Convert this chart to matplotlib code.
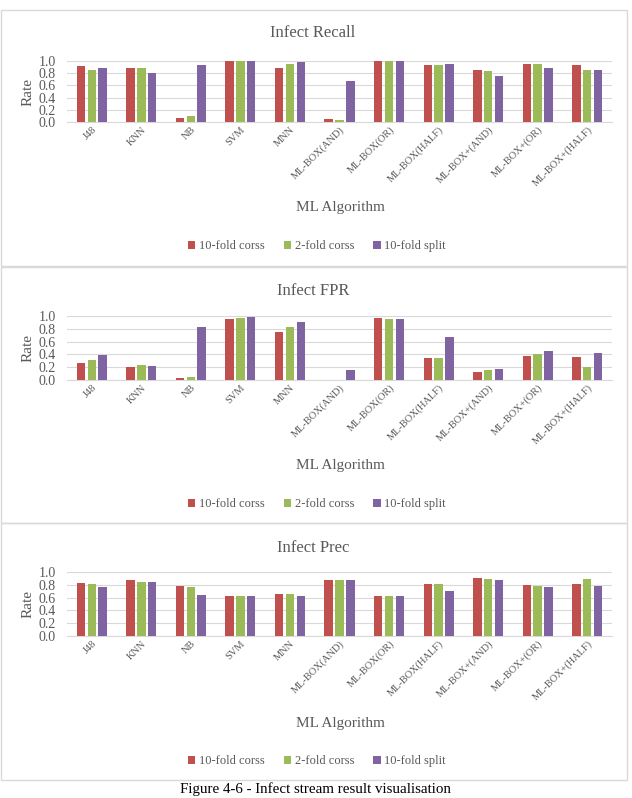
import matplotlib
matplotlib.use("Agg")
import matplotlib.pyplot as plt
import numpy as np
from matplotlib.patches import Rectangle

plt.rcParams['font.family'] = ['Liberation Serif', 'DejaVu Serif']

algorithms = ["J48", "KNN", "NB", "SVM", "MNN", "ML-BOX(AND)", "ML-BOX(OR)",
              "ML-BOX(HALF)", "ML-BOX+(AND)", "ML-BOX+(OR)", "ML-BOX+(HALF)"]
series_names = ["10-fold corss", "2-fold corss", "10-fold split"]
colors = ["#C0504D", "#9BBB59", "#8064A2"]

recall_10cv = [0.91, 0.89, 0.06, 1.00, 0.88, 0.05, 1.00, 0.94, 0.85, 0.95, 0.94]
recall_2cv = [0.86, 0.88, 0.10, 1.00, 0.95, 0.04, 1.00, 0.94, 0.84, 0.95, 0.85]
recall_split = [0.88, 0.80, 0.94, 1.00, 0.98, 0.68, 1.00, 0.95, 0.76, 0.89, 0.86]

fpr_10cv = [0.27, 0.21, 0.03, 0.96, 0.75, 0.005, 0.97, 0.35, 0.13, 0.38, 0.36]
fpr_2cv = [0.31, 0.24, 0.04, 0.97, 0.83, 0.0, 0.95, 0.34, 0.15, 0.41, 0.21]
fpr_split = [0.39, 0.22, 0.83, 0.98, 0.91, 0.15, 0.95, 0.67, 0.17, 0.46, 0.42]

prec_10cv = [0.83, 0.87, 0.78, 0.63, 0.65, 0.88, 0.62, 0.81, 0.91, 0.79, 0.81]
prec_2cv = [0.81, 0.85, 0.77, 0.63, 0.65, 0.88, 0.62, 0.81, 0.89, 0.78, 0.89]
prec_split = [0.77, 0.85, 0.64, 0.62, 0.63, 0.88, 0.63, 0.71, 0.87, 0.76, 0.78]

panels = [
    ("Infect Recall", [recall_10cv, recall_2cv, recall_split]),
    ("Infect FPR", [fpr_10cv, fpr_2cv, fpr_split]),
    ("Infect Prec", [prec_10cv, prec_2cv, prec_split]),
]

W, H = 632, 798
fig = plt.figure(figsize=(W / 100, H / 100), dpi=100)

# pixel layout of each panel: (box top, box bottom, plot top, plot bottom, title y, xlabel y, legend y)
layout = [
    (10, 266, 61, 122, 33, 208, 246),
    (267, 523, 316, 380, 291, 466, 504),
    (523, 780, 572, 636, 548, 723, 761),
]

x = np.arange(len(algorithms))
width = 0.17
step = 0.218
grid_col = "#D9D9D9"
text_col = "#595959"

for (title, vals), (bt, bb, pt, pb, ty, xy, ly) in zip(panels, layout):
    fig.patches.append(Rectangle((0.5 / W, 1 - bb / H), 626 / W, (bb - bt) / H,
                                 transform=fig.transFigure, fill=False,
                                 edgecolor=grid_col, linewidth=1.0))
    ax = fig.add_axes([67 / W, 1 - pb / H, (612 - 67) / W, (pb - pt) / H])
    handles = []
    for i, v in enumerate(vals):
        b = ax.bar(x + (i - 1) * step, v, width, color=colors[i], label=series_names[i], zorder=3)
        handles.append(b)
    ax.set_xlim(-0.5, len(algorithms) - 0.5)
    ax.set_ylim(0, 1.0)
    ax.set_yticks(np.arange(0, 1.01, 0.2))
    ax.set_yticklabels(["%.1f" % t for t in np.arange(0, 1.01, 0.2)], fontsize=10, color=text_col)
    ax.yaxis.grid(True, color=grid_col, linewidth=0.8, zorder=0)
    ax.tick_params(axis="y", length=0, pad=8)
    ax.tick_params(axis="x", length=0, pad=2)
    ax.set_xticks(x)
    ax.set_xticklabels(algorithms, rotation=45, ha="right", rotation_mode="anchor",
                       fontsize=7.5, color=text_col)
    for s in ["top", "right", "left"]:
        ax.spines[s].set_visible(False)
    ax.spines["bottom"].set_color(grid_col)
    ax.set_ylabel("Rate", fontsize=11, color=text_col, labelpad=3)

    fig.text(313 / W, 1 - ty / H, title, ha="center", va="center", fontsize=12, color=text_col)
    fig.text(340 / W, 1 - xy / H, "ML Algorithm", ha="center", va="center", fontsize=11, color=text_col)
    fig.legend(handles=handles, loc="center", bbox_to_anchor=(317 / W, 1 - ly / H),
               ncol=3, frameon=False, fontsize=9, handlelength=0.6, handleheight=0.6,
               handletextpad=0.3, columnspacing=1.5, labelcolor=text_col)

fig.text(315 / W, 1 - 789 / H, "Figure 4-6 - Infect stream result visualisation",
         ha="center", va="center", fontsize=10.8, color="black")

fig.savefig("out.png", dpi=100)
